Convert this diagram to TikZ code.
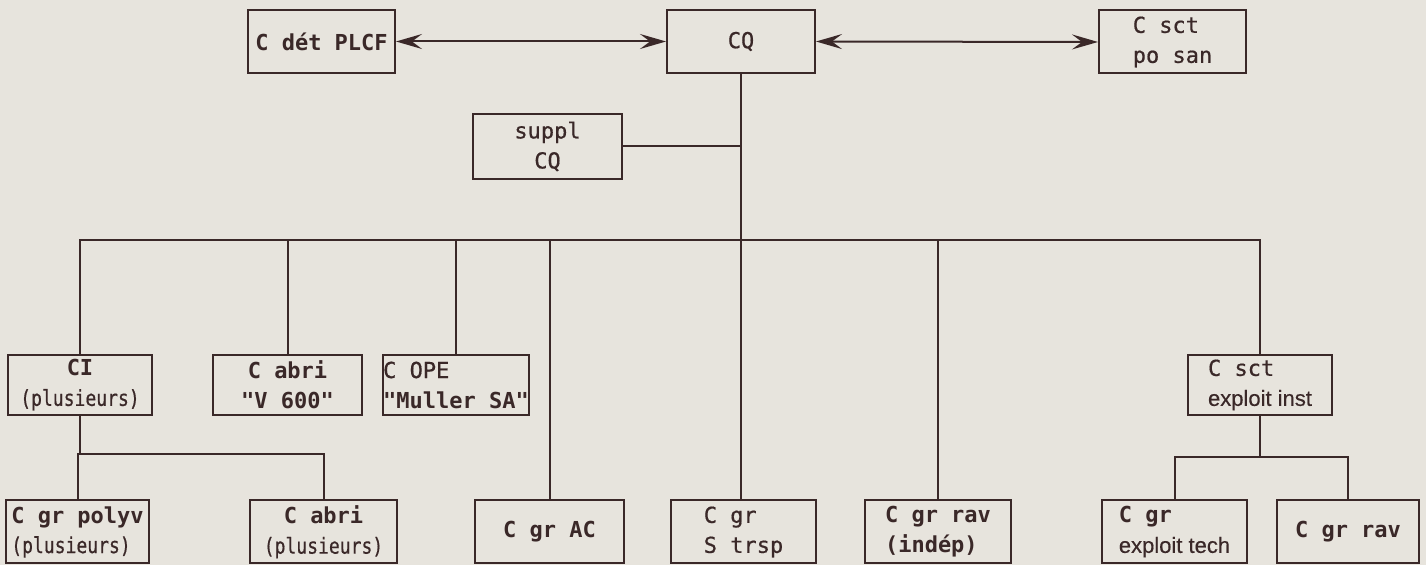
\documentclass[tikz,border=0pt]{standalone}
\usepackage{fontspec}
\newfontfamily\mono[UprightFeatures={FakeBold=0.6}]{DejaVu Sans Mono}
\newfontfamily\monoc[FakeStretch=0.82,UprightFeatures={FakeBold=0.5}]{DejaVu Sans Mono}
\newfontfamily\prop[UprightFeatures={FakeBold=0.4}]{Liberation Sans}
\usetikzlibrary{arrows.meta}
\definecolor{bg}{RGB}{231,228,221}
\definecolor{ink}{RGB}{58,40,40}
\begin{document}
\begin{tikzpicture}[x=0.5pt,y=-0.5pt,
  box/.style={draw=ink,line width=1pt,rectangle,inner sep=0pt,text=ink,
    font=\mono\fontsize{11}{15}\selectfont,minimum height=31.5pt},
  conn/.style={draw=ink,line width=1pt},
  biarrow/.style={conn,{Stealth[length=13pt,width=7.5pt,inset=5pt]}-{Stealth[length=13pt,width=7.5pt,inset=5pt]}}]
\fill[bg] (0,0) rectangle (1426,565);
\useasboundingbox (0,0) rectangle (1426,565);

% top row
\node[box,minimum width=73.5pt] (det) at (321.5,41.5) {\bfseries C dét PLCF};
\node[box,minimum width=74pt] (cq) at (741,41.5) {CQ};
\node[box,minimum width=73.5pt,align=left] (po) at (1172.5,42) {C sct\\po san};
\node[box,minimum width=74.5pt,minimum height=32.5pt,align=center] (suppl) at (547.5,146.5) {suppl\\CQ};

% second row
\node[box,minimum width=72pt,minimum height=30pt,align=center] (ci) at (80,385) {{\bfseries CI}\\{\monoc (plusieurs)}};
\node[box,minimum width=74.5pt,minimum height=30pt,align=center] (abriV) at (287.5,385) {{\bfseries C abri}\\{\bfseries "V 600"}};
\node[box,minimum width=73pt,minimum height=30pt,align=left] (ope) at (456,385) {C OPE\\{\bfseries "Muller SA"}};
\node[box,minimum width=72pt,minimum height=30pt,align=left] (sctexp) at (1260,385) {C sct\\{\prop exploit inst}};

% third row
\node[box,minimum width=71.5pt,align=left] (polyv) at (77.5,532) {{\bfseries C gr polyv}\\{\monoc (plusieurs)}};
\node[box,minimum width=73.5pt,align=center] (abriP) at (323.5,532) {{\bfseries C abri}\\{\monoc (plusieurs)}};
\node[box,minimum width=74.5pt] (grAC) at (549.5,532) {\bfseries C gr AC};
\node[box,minimum width=72.5pt,align=left] (strsp) at (743.5,532) {C gr\\S trsp};
\node[box,minimum width=73pt,align=left] (ravind) at (938,532) {{\bfseries C gr rav}\\{\bfseries (indép)}};
\node[box,minimum width=72.5pt,align=left] (exptech) at (1174.5,532) {{\bfseries C gr}\\{\prop exploit tech}};
\node[box,minimum width=71pt] (grrav) at (1348,532) {\bfseries C gr rav};

% connectors
\coordinate (bus) at (0,240);
\coordinate (subA) at (0,454);
\coordinate (subB) at (0,457);
\draw[biarrow] (det.east) -- (cq.west);
\draw[biarrow] (cq.east) -- (po.west);
\draw[conn] (cq.south) -- (cq.south |- strsp.north);
\draw[conn] (suppl.east) -- (suppl.east -| cq.south);
\draw[conn] (ci.north) -- (ci.north |- bus) -- (sctexp.north |- bus) -- (sctexp.north);
\foreach \n in {abriV,ope,grAC,ravind} \draw[conn] (\n.north) -- (\n.north |- bus);
\draw[conn] (ci.south) -- (ci.south |- subA);
\draw[conn] (polyv.north) -- (polyv.north |- subA) -- (abriP.north |- subA) -- (abriP.north);
\draw[conn] (sctexp.south) -- (sctexp.south |- subB);
\draw[conn] (exptech.north) -- (exptech.north |- subB) -- (grrav.north |- subB) -- (grrav.north);
\end{tikzpicture}
\end{document}
